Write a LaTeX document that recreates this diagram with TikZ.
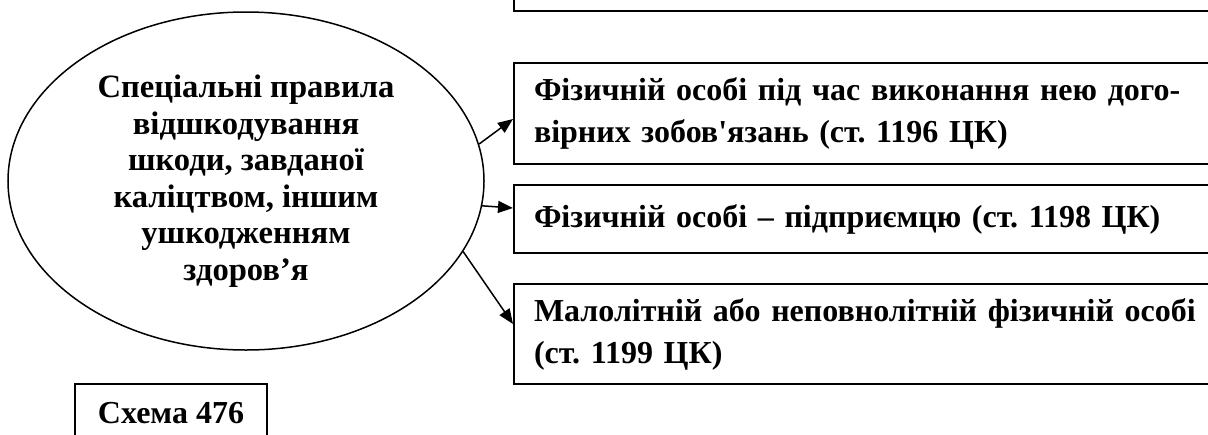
\documentclass[tikz,border=0pt]{standalone}
\usepackage{fontspec}
\setmainfont{Liberation Serif}
\usetikzlibrary{arrows.meta,shapes.geometric}
\frenchspacing
\begin{document}
\begin{tikzpicture}[x=1pt,y=-1pt,
  box/.style={draw,line width=2pt,rectangle,anchor=north west,minimum width=900pt,
    inner xsep=20pt,text width=860pt,align=left,
    font=\fontsize{32}{42}\selectfont\bfseries\frenchspacing},
  oval/.style={ellipse,draw,line width=1.5pt,inner sep=0pt,align=center,
    font=\fontsize{32.6}{36.5}\selectfont\bfseries},
  label/.style={draw,line width=2pt,rectangle,anchor=north,
    font=\fontsize{32}{38}\selectfont\bfseries},
  arr/.style={line width=1.5pt,-{Triangle[length=15pt,width=12pt]}}]
\useasboundingbox (0,0) rectangle (1208,434);

\node[box,anchor=south west,minimum height=60pt] (b1) at (513,12) {};
\node[box,minimum height=101pt] (b2) at (513,62)
  {Фізичній особі під час виконання нею дого-\\вірних зобов\textquotesingle язань (ст. 1196 ЦК)};
\node[box,minimum height=68pt] (b3) at (513,184)
  {Фізичній особі – підприємцю (ст. 1198 ЦК)};
\node[box,minimum height=100pt] (b4) at (513,283)
  {Малолітній або неповнолітній фізичній особі\\(ст. 1199 ЦК)};

\node[oval,minimum width=476pt,minimum height=338pt] (ell) at (246,181)
  {Спеціальні правила\\відшкодування\\шкоди, завданої\\каліцтвом, іншим\\ушкодженням\\здоров’я};

\node[label,minimum width=192pt,minimum height=58pt] (sch) at (171,383) {Схема 476};

\draw[arr] (ell.9) -- ([yshift=-5.5pt]b2.west);
\draw[arr] (ell.-6.2) -- ([yshift=11pt]b3.west);
\draw[arr] (ell.-18.9) -- ([yshift=10pt]b4.west);
\end{tikzpicture}
\end{document}
